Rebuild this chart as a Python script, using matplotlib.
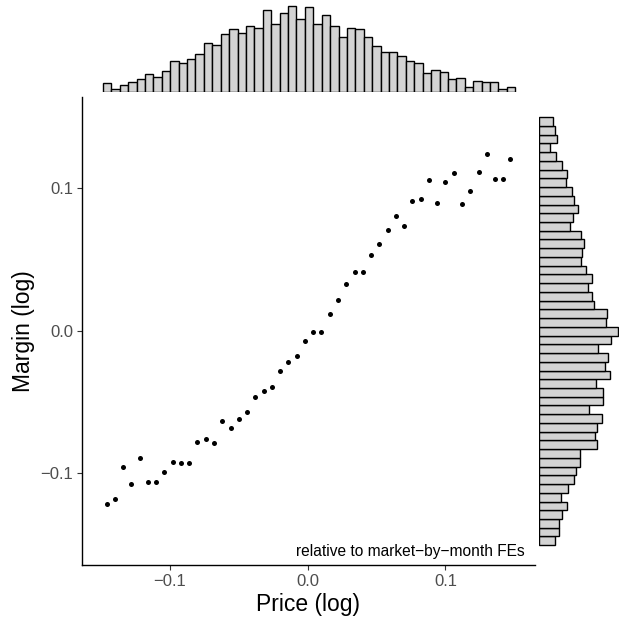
import numpy as np
import matplotlib
matplotlib.use("Agg")
import matplotlib.pyplot as plt

plt.rcParams['font.family'] = ['Liberation Sans', 'DejaVu Sans']
plt.rcParams['axes.unicode_minus'] = True

# Binned means: log price (x) vs log margin (y), relative to market-by-month FEs
price_bins = [-0.146, -0.140, -0.134, -0.128, -0.122, -0.116, -0.110, -0.104, -0.098, -0.092,
              -0.086, -0.080, -0.074, -0.068, -0.062, -0.056, -0.050, -0.044, -0.038, -0.032,
              -0.026, -0.020, -0.014, -0.008, -0.002, 0.004, 0.010, 0.016, 0.022, 0.028,
              0.034, 0.040, 0.046, 0.052, 0.058, 0.064, 0.070, 0.076, 0.082, 0.088,
              0.094, 0.100, 0.106, 0.112, 0.118, 0.124, 0.130, 0.136, 0.142, 0.147]
margin_means = [-0.1218, -0.1185, -0.0960, -0.1075, -0.0892, -0.1066, -0.1061, -0.0995, -0.0923, -0.0927,
                -0.0927, -0.0784, -0.0759, -0.0789, -0.0632, -0.0681, -0.0618, -0.0569, -0.0464, -0.0424,
                -0.0398, -0.0281, -0.0218, -0.0176, -0.0076, -0.0011, -0.0009, 0.0117, 0.0213, 0.0330,
                0.0410, 0.0410, 0.0530, 0.0607, 0.0705, 0.0804, 0.0738, 0.0911, 0.0925, 0.1061,
                0.0900, 0.1045, 0.1108, 0.0892, 0.0984, 0.1115, 0.1244, 0.1064, 0.1064, 0.1209]

# Marginal distributions (relative frequencies), low to high
price_hist = [8.3, 3, 7, 9.3, 12.7, 17.3, 14.7, 20.3, 31, 29, 33, 37.3, 49, 46.7, 57.3, 63, 59,
              65.3, 63.7, 82, 68, 79, 86, 72.7, 84.7, 68, 76.3, 65.3, 55, 64, 63, 55, 46, 39.7,
              39.7, 35.7, 31, 28.7, 19, 22, 20, 13, 13.7, 5, 10.7, 10, 9.3, 2.3, 4.3]
price_hist_range = (-0.1486, 0.1507)

margin_hist_top_down = [13.3, 15.3, 18, 11, 16.3, 22.3, 27.7, 27, 32.3, 34.3, 39, 34, 30.7, 42,
                        44.7, 42.3, 41.7, 46.3, 52.7, 48.7, 52.7, 54.7, 68, 66.7, 79, 71.3, 58.3,
                        69, 66, 70.7, 57, 63.7, 63.7, 49.3, 63, 57.7, 56, 57.7, 41, 40.3, 36.7,
                        34.3, 28.3, 21.3, 27.3, 22.3, 19.3, 20, 15.3]
margin_hist = margin_hist_top_down[::-1]
margin_hist_range = (-0.1508, 0.1500)

xticks = [-0.1, 0.0, 0.1]
yticks = [-0.1, 0.0, 0.1]
xticklabels = ['\u22120.1', '0.0', '0.1']
yticklabels = ['\u22120.1', '0.0', '0.1']

W, H = 619, 618
fig = plt.figure(figsize=(W / 100, H / 100), dpi=100)

def frac(l, t, r, b):
    return [l / W, 1 - b / H, (r - l) / W, (b - t) / H]

ax = fig.add_axes(frac(81.7, 96.7, 535, 565.3))
ax_top = fig.add_axes(frac(81.7, 4.7, 535, 91.7))
ax_right = fig.add_axes(frac(539.3, 96.7, 619, 565.3))

xlim = (-0.164, 0.165)
ylim = (-0.1649, 0.1644)

# Main scatter
ax.scatter(price_bins, margin_means, s=13, color='black', linewidths=0, zorder=3)
ax.set_xlim(*xlim)
ax.set_ylim(*ylim)
ax.set_xticks(xticks)
ax.set_xticklabels(xticklabels)
ax.set_yticks(yticks)
ax.set_yticklabels(yticklabels)
for side in ['top', 'right']:
    ax.spines[side].set_visible(False)
for side in ['left', 'bottom']:
    ax.spines[side].set_linewidth(1.0)
ax.tick_params(axis='both', length=3.5, width=0.8, color='#333333',
               labelcolor='#4D4D4D', labelsize=12, pad=2.5)
ax.set_xlabel('Price (log)', fontsize=16.5, labelpad=3)
ax.set_ylabel('Margin (log)', fontsize=16.5, labelpad=4)
ax.text(0.1575, -0.1553, 'relative to market\u2212by\u2212month FEs',
        ha='right', va='center', fontsize=11.2, color='black')

# Top marginal histogram
edges_x = np.linspace(price_hist_range[0], price_hist_range[1], len(price_hist) + 1)
ax_top.bar(edges_x[:-1], price_hist, width=np.diff(edges_x), align='edge',
           color='#D3D3D3', edgecolor='black', linewidth=1.0)
ax_top.set_xlim(*xlim)
ax_top.set_ylim(0, 87)
ax_top.axis('off')

# Right marginal histogram
edges_y = np.linspace(margin_hist_range[0], margin_hist_range[1], len(margin_hist) + 1)
ax_right.barh(edges_y[:-1], margin_hist, height=np.diff(edges_y), align='edge',
              color='#D3D3D3', edgecolor='black', linewidth=1.0)
ax_right.set_ylim(*ylim)
ax_right.set_xlim(0, 79.7)
ax_right.axis('off')

fig.savefig('out.png', dpi=100)
